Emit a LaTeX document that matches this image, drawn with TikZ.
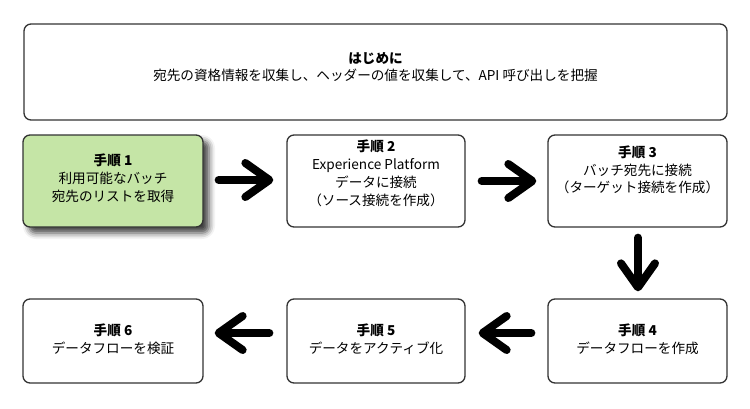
\documentclass[tikz,border=0pt]{standalone}
\usepackage{fontspec}
\setmainfont{Noto Sans CJK JP}
\usetikzlibrary{arrows.meta,shadows.blur}
\definecolor{stepgreen}{RGB}{197,229,166}
\begin{document}
\begin{tikzpicture}[x=1pt,y=-1pt,
  box/.style={draw=black!80, line width=1.3pt, rounded corners=7pt, fill=white, inner sep=0pt},
  txt/.style={align=center, font=\fontsize{13.6}{17.8}\selectfont, inner sep=0pt},
  bigarrow/.style={line width=8pt, line cap=round, line join=round, -{Straight Barb[length=24pt,width=34pt,round]}}]
\useasboundingbox (0,0) rectangle (750,408);
% boxes
\node[box, minimum width=703pt, minimum height=96pt] (b0) at (375.5,72) {};
\node[box, fill=stepgreen, minimum width=180pt, minimum height=92pt,
      blur shadow={shadow xshift=6pt, shadow yshift=-6pt, shadow blur radius=6pt, shadow opacity=75}] (b1) at (113,181) {};
\node[box, minimum width=178pt, minimum height=92pt] (b2) at (376,181) {};
\node[box, minimum width=179pt, minimum height=92pt] (b3) at (637.5,181) {};
\node[box, minimum width=179pt, minimum height=84pt] (b4) at (637.5,341) {};
\node[box, minimum width=178pt, minimum height=84pt] (b5) at (376,341) {};
\node[box, minimum width=180pt, minimum height=84pt] (b6) at (113,341) {};
% texts
\node[txt] (t0) at (375.5,67) {\textbf{はじめに}\\宛先の資格情報を収集し、ヘッダーの値を収集して、API 呼び出しを把握};
\node[txt] (t1) at (113,178) {\textbf{手順 1}\\利用可能なバッチ\\宛先のリストを取得};
\node[txt] (t2) at (376,173.5) {\textbf{手順 2}\\Experience Platform\\データに接続\\（ソース接続を作成）};
\node[txt] (t3) at (637.5,170) {\textbf{手順 3}\\バッチ宛先に接続\\（ターゲット接続を作成）};
\node[txt] (t4) at (637.5,339) {\textbf{手順 4}\\データフローを作成};
\node[txt] (t5) at (376,339) {\textbf{手順 5}\\データをアクティブ化};
\node[txt] (t6) at (113,339) {\textbf{手順 6}\\データフローを検証};
% arrows
\draw[bigarrow, shorten <=15pt, shorten >=13pt] ([yshift=1pt]b1.east) -- ([yshift=1pt]b2.west);
\draw[bigarrow, shorten <=16pt, shorten >=11pt] ([yshift=0pt]b2.east) -- ([yshift=0pt]b3.west);
\draw[bigarrow, shorten <=10pt, shorten >=7pt] ([xshift=0.5pt]b3.south) -- ([xshift=0.5pt]b4.north);
\draw[bigarrow, shorten <=16pt, shorten >=13pt] ([yshift=8pt]b4.west) -- ([yshift=8pt]b5.east);
\draw[bigarrow, shorten <=17pt, shorten >=11pt] ([yshift=8pt]b5.west) -- ([yshift=8pt]b6.east);
\end{tikzpicture}
\end{document}
